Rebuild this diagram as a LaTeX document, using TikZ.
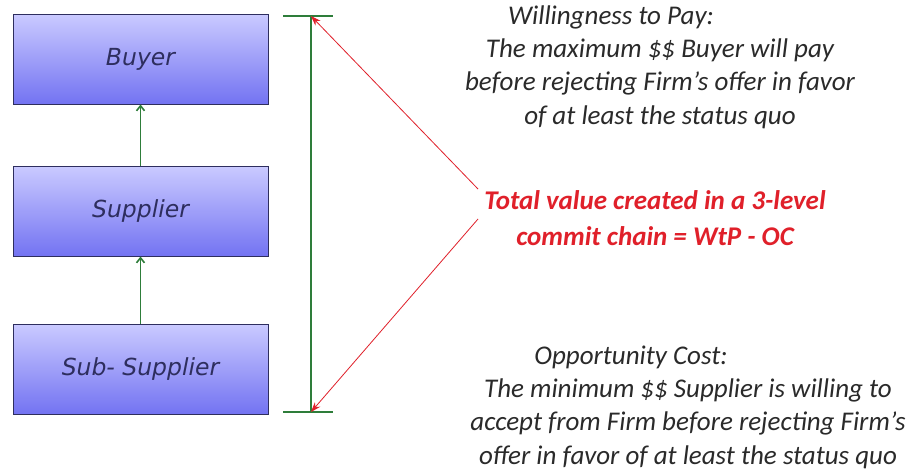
\documentclass[tikz,border=0pt]{standalone}
\usepackage{fontspec}
\setmainfont{Carlito}
\newfontfamily\boxfont{DejaVu Sans}
\usetikzlibrary{arrows.meta}
\definecolor{boxline}{HTML}{2E2E5E}
\definecolor{boxtop}{HTML}{CACAFF}
\definecolor{boxbot}{HTML}{7373F2}
\definecolor{grn}{HTML}{2E7D3A}
\definecolor{rd}{HTML}{E0202A}
\definecolor{ink}{HTML}{2A2A2A}
\tikzset{
  party/.style={draw=boxline, line width=1pt, top color=boxtop, bottom color=boxbot,
    minimum width=255pt, minimum height=90pt, inner sep=0pt,
    font=\boxfont\itshape\fontsize{23.5}{26}\selectfont, text=boxline},
  up/.style={draw=grn, line width=1.6pt, -{Straight Barb[length=5pt,width=8pt]}},
  span/.style={draw=grn, line width=1.6pt},
  pointer/.style={draw=rd, line width=0.8pt, -{Stealth[length=10pt,width=7pt]}},
  note/.style={align=center, font=\itshape\fontsize{27}{33.3}\selectfont, text=ink, inner sep=0pt},
  total/.style={align=center, font=\bfseries\itshape\fontsize{27}{36}\selectfont, text=rd, inner sep=0pt}
}
\begin{document}
\begin{tikzpicture}[x=1pt,y=-1pt]
\useasboundingbox[fill=white] (0,0) rectangle (907,474);
\node[party] (buyer) at (140.5,59) {Buyer};
\node[party] (supplier) at (140.5,211) {Supplier};
\node[party] (sub) at (140.5,369) {Sub- Supplier};
\draw[up] (supplier.north) -- (buyer.south);
\draw[up] (sub.north) -- (supplier.south);
\coordinate (ttop) at (311,16);
\coordinate (tbot) at (311,412);
\coordinate (tl1) at (283,16);
\coordinate (tr1) at (333,16);
\coordinate (tl2) at (283,412);
\coordinate (tr2) at (333,412);
\draw[span] (tl1) -- (tr1);
\draw[span] (tl2) -- (tr2);
\draw[span] (ttop) -- (tbot);
\node[note] (wtp) at (660,67) {Willingness to Pay:\hspace*{98pt}\\The maximum \$\$ Buyer will pay\\before rejecting Firm's offer in favor\\of at least the status quo};
\node[total] (tv) at (655,218) {Total value created in a 3-level\\commit chain = WtP - OC};
\node[note] (oc) at (688,407) {Opportunity Cost:\hspace*{114pt}\\The minimum \$\$ Supplier is willing to\\accept from Firm before rejecting Firm's\\offer in favor of at least the status quo};
\coordinate (p1) at (478,189);
\coordinate (p2) at (478,219);
\draw[pointer] (p1) -- (ttop);
\draw[pointer] (p2) -- (tbot);
\end{tikzpicture}
\end{document}
